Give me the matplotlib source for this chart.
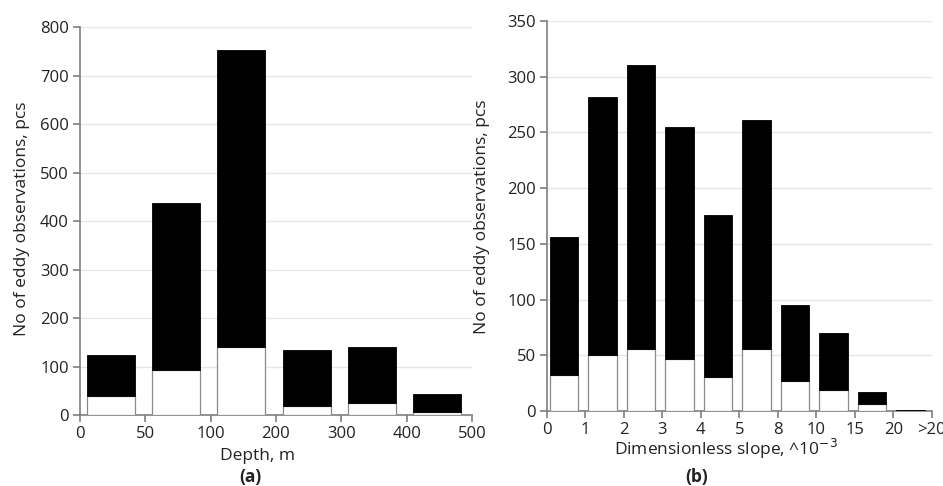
import matplotlib
matplotlib.use("Agg")
import matplotlib.pyplot as plt
import numpy as np

plt.rcParams['font.family'] = ['Open Sans', 'DejaVu Sans']

# Panel (a): depth
depth_ticks = ["0", "50", "100", "200", "300", "400", "500"]
depth_total = [123, 437, 754, 134, 140, 43]
depth_white = [40, 93, 140, 18, 25, 7]

# Panel (b): slope
slope_ticks = ["0", "1", "2", "3", "4", "5", "8", "10", "15", "20", ">20"]
slope_total = [156, 282, 310, 255, 176, 261, 95, 70, 17, 1]
slope_white = [32, 50, 56, 47, 31, 56, 27, 19, 6, 0]

fig = plt.figure(figsize=(9.43, 4.86), dpi=100)
axA = fig.add_axes([0.0848, 0.146, 0.4157, 0.798])
axB = fig.add_axes([0.580, 0.154, 0.408, 0.803])

TXT = '#222222'

def draw(ax, ticks, total, white, ymax, ystep, offset, width):
    n = len(total)
    x = np.arange(n) + offset
    black = [t - w for t, w in zip(total, white)]
    ax.bar(x, white, width=width, color='white', edgecolor='#8a8a8a', linewidth=0.9, zorder=3)
    ax.bar(x, black, width=width, bottom=white, color='black', edgecolor='black', linewidth=0.6, zorder=3)
    ax.set_xlim(0, n)
    ax.set_ylim(0, ymax)
    ax.set_xticks(np.arange(n + 1))
    ax.set_xticklabels(ticks)
    ax.set_yticks(np.arange(0, ymax + 1, ystep))
    ax.yaxis.grid(True, color='#e6e6e6', linewidth=1.0, zorder=0)
    ax.set_axisbelow(True)
    for s in ['top', 'right']:
        ax.spines[s].set_visible(False)
    for s in ['left', 'bottom']:
        ax.spines[s].set_color('#7f7f7f')
        ax.spines[s].set_linewidth(1.2)
    ax.tick_params(axis='both', direction='out', length=5, width=1.2, color='#7f7f7f',
                   labelsize=12, labelcolor=TXT, pad=3)

draw(axA, depth_ticks, depth_total, depth_white, 800, 100, 0.47, 0.73)
draw(axB, slope_ticks, slope_total, slope_white, 350, 50, 0.45, 0.74)

fig.text(0.023, 0.55, "No of eddy observations, pcs", rotation=90, ha='center', va='center',
         fontsize=12.5, color=TXT)
fig.text(0.511, 0.555, "No of eddy observations, pcs", rotation=90, ha='center', va='center',
         fontsize=12.5, color=TXT)

fig.text(0.2735, 1 - 456 / 486, "Depth, m", ha='center', va='center', fontsize=12.5, color=TXT)
fig.text(0.266, 1 - 477 / 486, "(a)", ha='center', va='center', fontsize=12.5, fontweight='bold', color=TXT)
fig.text(0.770, 1 - 449 / 486, "Dimensionless slope, ^10$^{-3}$", ha='center', va='center',
         fontsize=12.5, color=TXT)
fig.text(0.739, 1 - 477 / 486, "(b)", ha='center', va='center', fontsize=12.5, fontweight='bold', color=TXT)

fig.savefig("out.png", dpi=100)
